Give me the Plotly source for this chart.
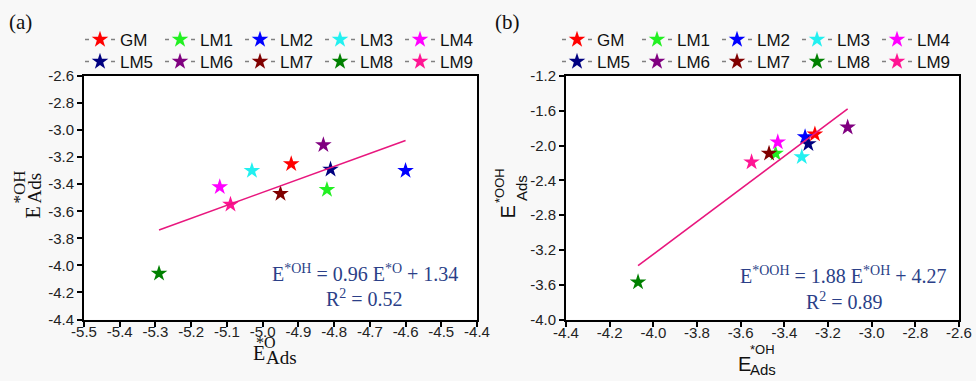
import plotly.graph_objects as go

# ---------------- data ----------------
names = ["GM", "LM1", "LM2", "LM3", "LM4", "LM5", "LM6", "LM7", "LM8", "LM9"]
colors = ["#FF0000", "#22F022", "#0000FF", "#22F0F0", "#FF00FF",
          "#000080", "#800080", "#800000", "#008000", "#FF1493"]

# panel (a): E_ads(*O) vs E_ads(*OH)
a_E_O = [-4.92, -4.82, -4.60, -5.03, -5.12, -4.81, -4.83, -4.95, -5.29, -5.09]
a_E_OH = [-3.25, -3.44, -3.30, -3.30, -3.42, -3.29, -3.11, -3.47, -4.06, -3.55]
a_slope, a_intercept, a_r2 = 0.96, 1.34, 0.52

# panel (b): E_ads(*OH) vs E_ads(*OOH)
b_E_OH = [-3.26, -3.44, -3.305, -3.32, -3.43, -3.29, -3.11, -3.47, -4.07, -3.55]
b_E_OOH = [-1.87, -2.09, -1.90, -2.13, -1.96, -1.98, -1.79, -2.09, -3.57, -2.19]
b_slope, b_intercept, b_r2 = 1.88, 4.27, 0.89

a_xticks = [-5.5, -5.4, -5.3, -5.2, -5.1, -5.0, -4.9, -4.8, -4.7, -4.6, -4.5, -4.4]
a_xlabels = ["-5.5", "-5.4", "-5.3", "-5.2", "-5.1", "-5.0", "-4.9", "-4.8", "-4.7", "-4.6", "-4.5", "-4.4"]
a_yticks = [-4.4, -4.2, -4.0, -3.8, -3.6, -3.4, -3.2, -3.0, -2.8, -2.6]
a_ylabels = ["-4.4", "-4.2", "-4.0", "-3.8", "-3.6", "-3.4", "-3.2", "-3.0", "-2.8", "-2.6"]
b_xticks = [-4.4, -4.2, -4.0, -3.8, -3.6, -3.4, -3.2, -3.0, -2.8, -2.6]
b_xlabels = ["-4.4", "-4.2", "-4.0", "-3.8", "-3.6", "-3.4", "-3.2", "-3.0", "-2.8", "-2.6"]
b_yticks = [-4.0, -3.6, -3.2, -2.8, -2.4, -2.0, -1.6, -1.2]
b_ylabels = ["-4.0", "-3.6", "-3.2", "-2.8", "-2.4", "-2.0", "-1.6", "-1.2"]

# ---------------- figure ----------------
W, H = 976, 381
SANS = "Liberation Sans, Arial, sans-serif"
SERIF = "Liberation Serif, Times New Roman, serif"
EQ_COLOR = "#2B3F88"
FIT_COLOR = "#E8177E"

def px(x):
    return x / W

def py(y):
    return 1 - y / H

fig = go.Figure()

legend_for = {0: ("legend", "legend2"), 1: ("legend3", "legend4")}
panels = [(a_E_O, a_E_OH, "x", "y"), (b_E_OH, b_E_OOH, "x2", "y2")]
for p, (xs, ys, xa, ya) in enumerate(panels):
    for i, name in enumerate(names):
        fig.add_trace(go.Scatter(
            x=[xs[i]], y=[ys[i]], name=name, mode="lines+markers",
            xaxis=xa, yaxis=ya,
            marker=dict(symbol="star", size=12.5, color=colors[i], line=dict(width=0)),
            line=dict(color="#808080", width=1.5, dash="4px,22px,4px"),
            legend=legend_for[p][0] if i < 5 else legend_for[p][1],
            hoverinfo="x+y+name",
        ))

# fit lines
fits = [(a_E_O, a_slope, a_intercept, "x", "y"), (b_E_OH, b_slope, b_intercept, "x2", "y2")]
for xs, m, c, xa, ya in fits:
    x0, x1 = min(xs), max(xs)
    fig.add_trace(go.Scatter(
        x=[x0, x1], y=[m * x0 + c, m * x1 + c], mode="lines",
        line=dict(color=FIT_COLOR, width=1.6), showlegend=False,
        xaxis=xa, yaxis=ya, hoverinfo="skip"))

axis_common = dict(showline=True, linecolor="black", linewidth=2, mirror=True,
                   ticks="outside", ticklen=5, tickwidth=1.5, tickcolor="black",
                   showgrid=False, zeroline=False, automargin=False,
                   tickfont=dict(family=SANS, size=15, color="#222"))

y_dom = [py(319.5), py(76)]
leg_common = dict(orientation="h", font=dict(family=SANS, size=17, color="#111"),
                  bgcolor="rgba(0,0,0,0)", entrywidth=35, entrywidthmode="pixels",
                  xanchor="left", yanchor="middle", tracegroupgap=0, itemclick=False)

fig.update_layout(
    width=W, height=H,
    margin=dict(l=0, r=0, t=0, b=0, autoexpand=False),
    paper_bgcolor="#f8f8f8", plot_bgcolor="#ffffff",
    xaxis=dict(domain=[px(84), px(477)], range=[-5.5, -4.4], anchor="y",
               tickvals=a_xticks, ticktext=a_xlabels, ticklabelstandoff=-8, **axis_common),
    yaxis=dict(domain=y_dom, range=[-4.4, -2.6], anchor="x",
               tickvals=a_yticks, ticktext=a_ylabels, **axis_common),
    xaxis2=dict(domain=[px(566), px(959)], range=[-4.4, -2.6], anchor="y2",
                tickvals=b_xticks, ticktext=b_xlabels, ticklabelstandoff=-7, **axis_common),
    yaxis2=dict(domain=y_dom, range=[-4.0, -1.2], anchor="x2",
                tickvals=b_yticks, ticktext=b_ylabels, **axis_common),
    legend=dict(x=px(80), y=py(40), **leg_common),
    legend2=dict(x=px(80), y=py(62), **leg_common),
    legend3=dict(x=px(557), y=py(40), **leg_common),
    legend4=dict(x=px(557), y=py(62), **leg_common),
    showlegend=True,
)

def ann(text, x, y, size, family, color="#111", angle=0):
    fig.add_annotation(text=text, x=px(x), y=py(y), xref="paper", yref="paper",
                       xanchor="center", yanchor="middle", showarrow=False,
                       textangle=angle, font=dict(family=family, size=size, color=color))

# panel labels
ann("(a)", 20.5, 22, 21, SERIF)
ann("(b)", 507.5, 22, 21, SERIF)

# equations
ann(f"E<sup>*OH</sup> = {a_slope:.2f} E<sup>*O</sup> + {a_intercept:.2f}", 365, 273, 20, SERIF, EQ_COLOR)
ann(f"R<sup>2</sup> = {a_r2:.2f}", 364, 298, 20, SERIF, EQ_COLOR)
ann(f"E<sup>*OOH</sup> = {b_slope:.2f} E<sup>*OH</sup> + {b_intercept:.2f}", 843, 275, 20, SERIF, EQ_COLOR)
ann(f"R<sup>2</sup> = {b_r2:.2f}", 844, 301, 20, SERIF, EQ_COLOR)

# axis titles panel (a) (serif, stacked sup/sub)
ann("E", 258.5, 353, 20, SERIF)
ann("*O", 266, 342, 16, SERIF)
ann("Ads", 281, 357, 19, SERIF)
ann("E", 32, 212.5, 20, SERIF, angle=-90)
ann("*OH", 19, 187.5, 17, SERIF, angle=-90)
ann("Ads", 34, 188.5, 19, SERIF, angle=-90)

# axis titles panel (b) (sans)
ann("E", 744, 363.5, 20, SANS)
ann("*OH", 762.5, 349, 13, SANS)
ann("Ads", 763, 369, 15, SANS)
ann("E", 507.5, 212, 20, SANS, angle=-90)
ann("*OOH", 500, 185, 13, SANS, angle=-90)
ann("Ads", 522, 188, 15, SANS, angle=-90)

fig.write_html("out.html", config={"displayModeBar": False},
               post_script="document.body.style.margin='0';document.body.style.overflow='hidden';")
